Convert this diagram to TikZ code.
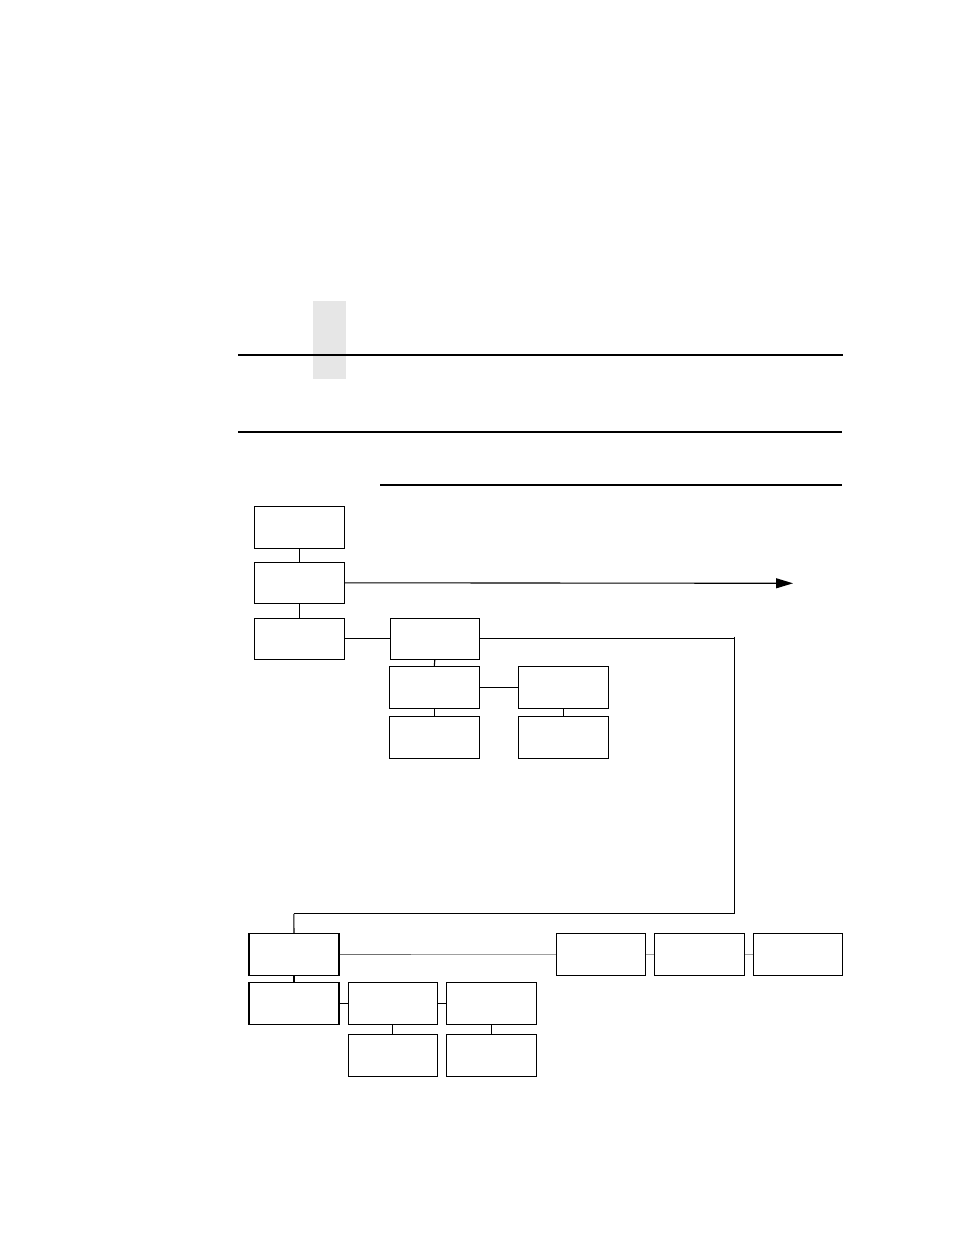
\documentclass[tikz,border=0pt]{standalone}
\usetikzlibrary{arrows.meta}
\definecolor{tabgray}{HTML}{E6E6E6}
\definecolor{linkdark}{HTML}{707070}
\definecolor{linklight}{HTML}{A0A0A0}
\begin{document}
\begin{tikzpicture}[x=1pt,y=-1pt,
  box/.style={draw=black,line width=1.1pt,inner sep=0pt,minimum width=89.5pt,minimum height=41.5pt},
  link/.style={draw=black,line width=1.1pt},
  glink/.style={draw=linklight,line width=1.3pt},
  rule/.style={draw=black,line width=1.2pt}]
\path[use as bounding box,fill=white] (0,0) rectangle (954,1235);
% header tab and rules
\fill[tabgray] (313,301) rectangle (346,379);
\coordinate (r1a) at (238,355); \coordinate (r1b) at (843,355);
\coordinate (r2a) at (238,432); \coordinate (r2b) at (842,432);
\coordinate (r3a) at (380,485); \coordinate (r3b) at (842,485);
\draw[rule] (r1a) -- (r1b);
\draw[rule] (r2a) -- (r2b);
\draw[rule] (r3a) -- (r3b);
% upper tree
\node[box] (A1) at (299.5,527.5) {};
\node[box] (A2) at (299.5,582.8) {};
\node[box] (A3) at (299.5,638.8) {};
\node[box] (B1) at (434.8,638.8) {};
\node[box] (B2) at (434.3,687.5) {};
\node[box] (B3) at (434.3,737.5) {};
\node[box] (C2) at (563.5,687.5) {};
\node[box] (C3) at (563.5,737.5) {};
\draw[link] (A1.south) -- (A2.north);
\draw[link] (A2.south) -- (A3.north);
\draw[link] (A3.east) -- (B1.west);
\draw[link] (B1.south) -- (B2.north);
\draw[link] (B2.south) -- (B3.north);
\draw[link] (B2.east) -- (C2.west);
\draw[link] (C2.south) -- (C3.north);
\coordinate (arr) at (793,583.3);
\draw[link,-{Triangle[length=17pt,width=10pt]}] (A2.east) -- (arr);
\coordinate (t1) at (734.5,638.8);
\coordinate (t0) at (734.5,636.5);
\coordinate (t2) at (734.5,913.8);
\coordinate (t3) at (293.8,913.8);
\draw[link] (B1.east) -- (t1);
\draw[link] (t0) -- (t2) -- (t3);
% lower tree
\node[box,minimum width=90pt] (D1) at (294,954.6) {};
\node[box,minimum width=90pt,minimum height=41.7pt] (F1) at (294,1003.2) {};
\node[box,minimum width=88.7pt,minimum height=41.7pt] (F2) at (392.7,1003.2) {};
\node[box,minimum width=90pt,minimum height=41.7pt] (F3) at (491.3,1003.2) {};
\node[box,minimum width=88.7pt,minimum height=42.7pt] (G2) at (392.7,1055.4) {};
\node[box,minimum width=90pt,minimum height=42.7pt] (G3) at (491.3,1055.4) {};
\node[box] (E1) at (600.8,954.6) {};
\node[box,minimum width=90pt] (E2) at (699.3,954.6) {};
\node[box] (E3) at (797.8,954.6) {};
\draw[link] (t3) -- (D1.north);
\draw[link] (D1.south) -- (F1.north);
\draw[link] (F1.east) -- (F2.west);
\draw[link] (F2.east) -- (F3.west);
\draw[link] (F2.south) -- (G2.north);
\draw[link] (F3.south) -- (G3.north);
\coordinate (gm) at (411,954.6);
\draw[draw=linkdark,line width=1.1pt] (D1.east) -- (gm);
\draw[glink] (gm) -- (E1.west);
\draw[glink] (E1.east) -- (E2.west);
\draw[glink] (E2.east) -- (E3.west);
\end{tikzpicture}
\end{document}
